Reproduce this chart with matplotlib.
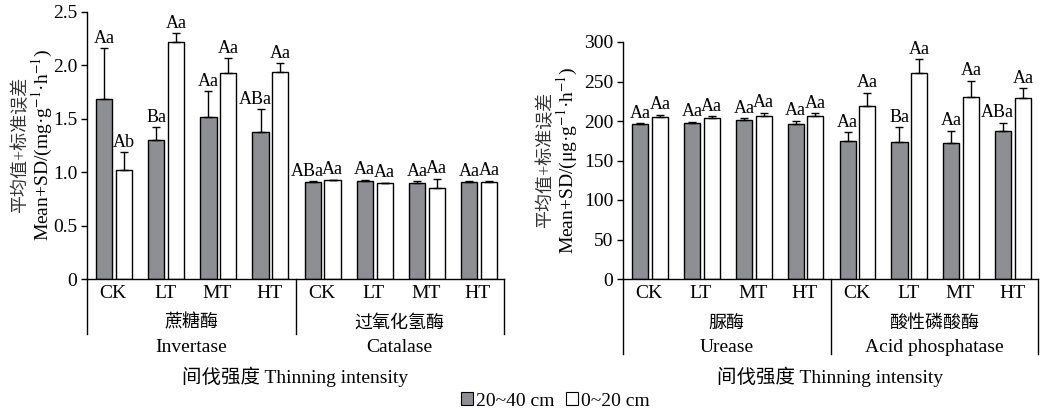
import numpy as np
import matplotlib
matplotlib.use("Agg")
import matplotlib.pyplot as plt
from matplotlib.patches import Patch
from matplotlib.transforms import blended_transform_factory

plt.rcParams['font.family'] = ['Liberation Serif', 'Noto Sans CJK SC']
plt.rcParams['mathtext.fontset'] = 'stix'

# ---- data ----
treatments = ["CK", "LT", "MT", "HT"]
depth_labels = ["20~40 cm", "0~20 cm"]

# left panel: invertase / catalase (mg g-1 h-1)
invertase_deep = [1.69, 1.30, 1.52, 1.38]
invertase_deep_sd = [0.47, 0.12, 0.24, 0.21]
invertase_top = [1.02, 2.22, 1.93, 1.94]
invertase_top_sd = [0.17, 0.08, 0.14, 0.08]
catalase_deep = [0.91, 0.915, 0.90, 0.91]
catalase_deep_sd = [0.005, 0.015, 0.015, 0.005]
catalase_top = [0.925, 0.895, 0.855, 0.905]
catalase_top_sd = [0.005, 0.005, 0.085, 0.015]

# right panel: urease / acid phosphatase (ug g-1 h-1)
urease_deep = [196, 197, 201, 196.5]
urease_deep_sd = [1, 2, 2.6, 3.8]
urease_top = [204.5, 203.6, 205.7, 206.6]
urease_top_sd = [3.5, 2.4, 4.7, 3]
acid_deep = [175, 173, 172, 187.5]
acid_deep_sd = [11, 19, 15.5, 10.5]
acid_top = [219, 261, 230.5, 229.5]
acid_top_sd = [17, 17.5, 20.5, 12]

# significance letters
invertase_deep_sig = ["Aa", "Ba", "Aa", "ABa"]
invertase_top_sig = ["Ab", "Aa", "Aa", "Aa"]
catalase_deep_sig = ["ABa", "Aa", "Aa", "Aa"]
catalase_top_sig = ["Aa", "Aa", "Aa", "Aa"]
urease_deep_sig = ["Aa", "Aa", "Aa", "Aa"]
urease_top_sig = ["Aa", "Aa", "Aa", "Aa"]
acid_deep_sig = ["Aa", "Ba", "Aa", "ABa"]
acid_top_sig = ["Aa", "Aa", "Aa", "Aa"]

DARK = '#8e8f93'
W, H = 1041, 416
FS = 14

fig = plt.figure(figsize=(W / 100, H / 100), dpi=100)


def px_axes(x0, y0, x1, y1):
    return fig.add_axes([x0 / W, 1 - y1 / H, (x1 - x0) / W, (y1 - y0) / H])


def panel(ax, enzymes, cn_names, en_names, ylim, yticks, ytick_fmt, box_bottom):
    ax.set_xlim(0, 8)
    ax.set_ylim(*ylim)
    for s in ['top', 'right']:
        ax.spines[s].set_visible(False)
    ax.spines['bottom'].set_linewidth(1.0)
    ax.spines['left'].set_linewidth(1.0)
    ax.set_yticks(yticks)
    ax.set_yticklabels([ytick_fmt(v) for v in yticks], fontsize=FS)
    ax.tick_params(axis='y', direction='out', length=4, width=1, pad=3)
    ax.set_xticks([])

    w = 0.31
    for g, (deep, deep_sd, top, top_sd, deep_sig, top_sig) in enumerate(enzymes):
        x = np.arange(4) + 4 * g + 0.52
        for xs, vals, sd, sig, fc in [(x - 0.19, deep, deep_sd, deep_sig, DARK),
                                      (x + 0.19, top, top_sd, top_sig, 'white')]:
            ax.bar(xs, vals, width=w, color=fc, edgecolor='black', linewidth=1.0, zorder=2)
            ax.errorbar(xs, vals, yerr=[np.zeros(4), sd], fmt='none', ecolor='black',
                        elinewidth=1.0, capsize=3, capthick=1.0, zorder=3)
            for xi, v, s, lab in zip(xs, vals, sd, sig):
                dx = -4 if (len(lab) == 3 and fc == DARK) else 0
                ax.annotate(lab, (xi, v + s), xytext=(dx, 1), textcoords='offset points',
                            ha='center', va='bottom', fontsize=13)

    tr = blended_transform_factory(ax.transData, fig.transFigure)
    yb = 1 - box_bottom / H
    for xv in [0, 4, 8]:
        ax.plot([xv, xv], [1 - 279 / H, yb], color='black', lw=1.0, transform=tr, clip_on=False)
    for g in range(2):
        for i, t in enumerate(treatments):
            ax.text(4 * g + i + 0.5, 1 - 293 / H, t, transform=tr, ha='center', va='center', fontsize=FS)
        ax.text(4 * g + 2, 1 - 323 / H, cn_names[g], transform=tr, ha='center', va='center', fontsize=13)
        ax.text(4 * g + 2, 1 - 347 / H, en_names[g], transform=tr, ha='center', va='center', fontsize=FS)
    ax.text(4, 1 - 377 / H, "间伐强度 Thinning intensity", transform=tr, ha='center', va='center', fontsize=FS)


ax1 = px_axes(87, 12, 504, 279)
panel(ax1,
      [(invertase_deep, invertase_deep_sd, invertase_top, invertase_top_sd, invertase_deep_sig, invertase_top_sig),
       (catalase_deep, catalase_deep_sd, catalase_top, catalase_top_sd, catalase_deep_sig, catalase_top_sig)],
      ["蔗糖酶", "过氧化氢酶"], ["Invertase", "Catalase"],
      (0, 2.5), [0, 0.5, 1.0, 1.5, 2.0, 2.5], lambda v: "0" if v == 0 else f"{v:.1f}", 334)

ax2 = px_axes(623, 42, 1038, 279)
panel(ax2,
      [(urease_deep, urease_deep_sd, urease_top, urease_top_sd, urease_deep_sig, urease_top_sig),
       (acid_deep, acid_deep_sd, acid_top, acid_top_sd, acid_deep_sig, acid_top_sig)],
      ["脲酶", "酸性磷酸酶"], ["Urease", "Acid phosphatase"],
      (0, 300), [0, 50, 100, 150, 200, 250, 300], lambda v: f"{v:d}", 354)

# y labels (two rotated lines)
fig.text(20 / W, 1 - 145 / H, "平均值+标准误差", rotation=90, ha='center', va='center', fontsize=13, color='#333333')
fig.text(42 / W, 1 - 145 / H, "Mean+SD/(mg·g$^{-1}$·h$^{-1}$)", rotation=90, ha='center', va='center', fontsize=14)
fig.text(545 / W, 1 - 160 / H, "平均值+标准误差", rotation=90, ha='center', va='center', fontsize=13, color='#333333')
fig.text(567 / W, 1 - 160 / H, "Mean+SD/(μg·g$^{-1}$·h$^{-1}$)", rotation=90, ha='center', va='center', fontsize=14)

handles = [Patch(facecolor=DARK, edgecolor='black', linewidth=0.8),
           Patch(facecolor='white', edgecolor='black', linewidth=0.8)]
fig.legend(handles, depth_labels, loc='center', bbox_to_anchor=(555 / W, 1 - 401 / H), ncol=2,
           frameon=False, fontsize=FS, handlelength=0.62, handleheight=0.62,
           handletextpad=0.15, columnspacing=0.6, borderpad=0)

fig.savefig("out.png", dpi=100)
